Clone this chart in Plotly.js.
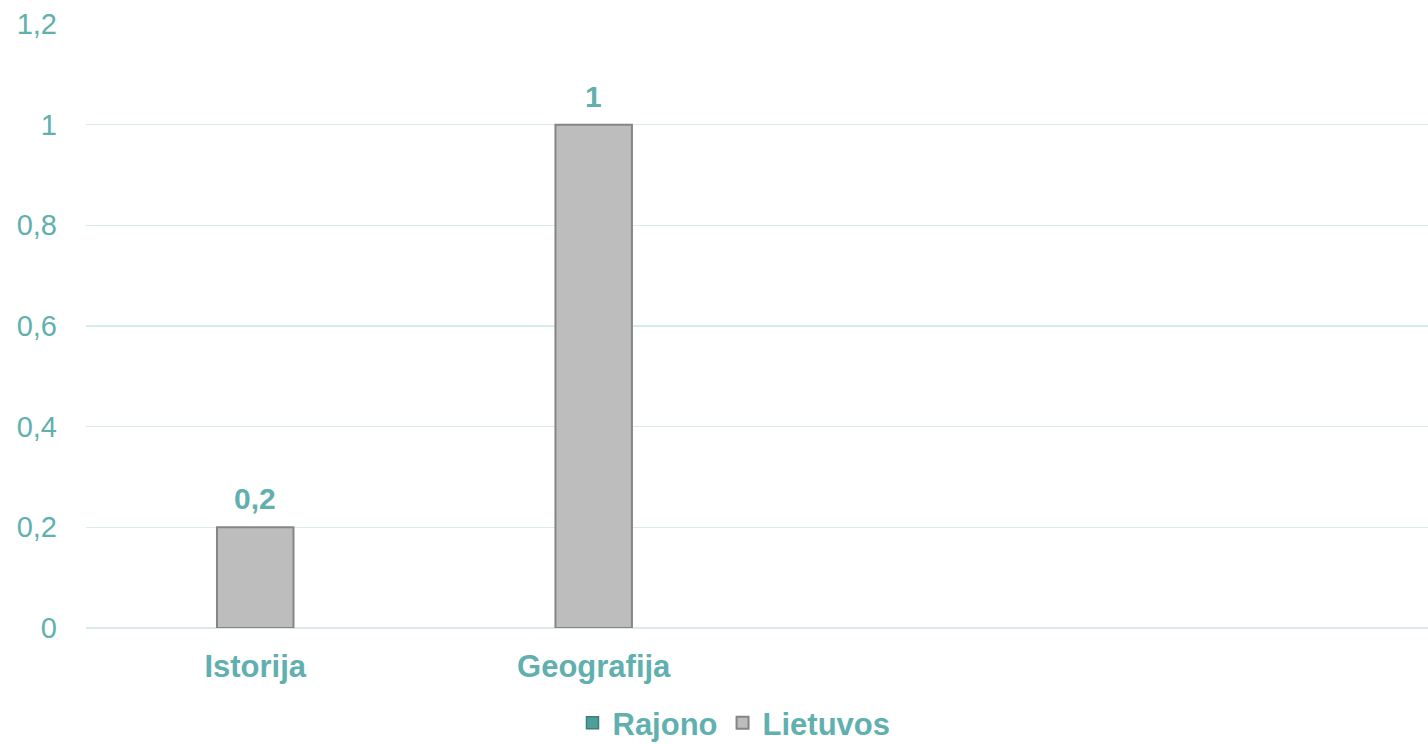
<!DOCTYPE html>
<html>
<head>
<meta charset="utf-8">
<script src="https://cdn.plot.ly/plotly-3.0.1.min.js"></script>
<style>html,body{margin:0;padding:0;background:#fff}#chart{width:1428px;height:744px}</style>
</head>
<body>
<div id="chart"></div>
<script>
var categories = ['Istorija', 'Geografija', '', ''];
var positions = [0, 1, 2, 3];
var rajonoValues = [null, null, null, null];
var lietuvosValues = [0.2, 1, null, null];
var yTicks = [0, 0.2, 0.4, 0.6, 0.8, 1, 1.2];

var teal = '#5fb0ae';
var fontFam = '"Liberation Sans", Arial, sans-serif';

var traces = [
  {
    type: 'bar', name: 'Rajono', x: positions, y: rajonoValues,
    width: 0.226,
    marker: {color: '#4f9e9b', line: {color: '#3c7f7d', width: 1.5}},
    showlegend: true
  },
  {
    type: 'bar', name: 'Lietuvos', x: positions, y: lietuvosValues,
    width: 0.226,
    marker: {color: '#bdbdbd', line: {color: '#858585', width: 2}},
    hoverinfo: 'x+y'
  }
];

var annotations = [];
positions.forEach(function (p, i) {
  var v = lietuvosValues[i];
  if (v === null) return;
  annotations.push({
    x: p, y: v, xref: 'x', yref: 'y',
    text: String(v).replace('.', ','),
    showarrow: false, yanchor: 'bottom', yshift: 10,
    font: {family: fontFam, size: 30, color: teal, weight: 'bold'}
  });
});

var layout = {
  width: 1428, height: 744,
  margin: {l: 86, r: 0, t: 24, b: 116},
  paper_bgcolor: '#ffffff', plot_bgcolor: '#ffffff',
  barmode: 'overlay',
  separators: ',.',
  font: {family: fontFam, color: teal},
  xaxis: {
    range: [-0.5, 3.465], tickvals: positions, ticktext: categories,
    showgrid: false, zeroline: false, showline: false, ticks: '',
    tickfont: {family: fontFam, size: 31, color: teal, weight: 'bold'},
    ticklabelstandoff: 17, automargin: false
  },
  yaxis: {
    range: [0, 1.2], tickvals: yTicks,
    showgrid: true, gridcolor: '#d7ebe9', gridwidth: 1.5,
    zeroline: true, zerolinecolor: '#d7ebe9', zerolinewidth: 1.5,
    showline: false, ticks: '',
    tickfont: {family: fontFam, size: 29, color: teal},
    ticklabelstandoff: 28, automargin: false
  },
  annotations: annotations,
  legend: {
    orientation: 'h', xref: 'container', yref: 'container',
    x: 0.514, xanchor: 'center', y: 0.028, yanchor: 'middle',
    font: {family: fontFam, size: 31, color: teal, weight: 'bold'},
    itemwidth: 30, traceorder: 'normal', maxheight: 200
  },
  showlegend: true
};

Plotly.newPlot('chart', traces, layout, {displayModeBar: false, staticPlot: true});
</script>
</body>
</html>
